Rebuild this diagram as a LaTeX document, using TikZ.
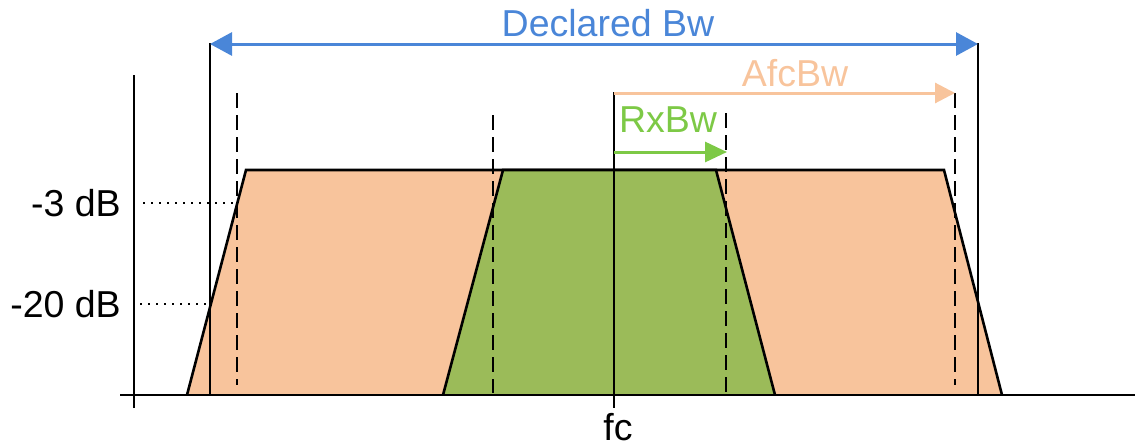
\documentclass[tikz,border=0pt]{standalone}
\usepackage{fontspec}
\setmainfont{Liberation Sans}
\usetikzlibrary{arrows.meta}
\definecolor{peach}{HTML}{F8C49C}
\definecolor{olive}{HTML}{9BBB59}
\definecolor{bwblue}{HTML}{4A86D8}
\definecolor{rxgreen}{HTML}{7DC946}
\tikzset{
  lbl/.style={inner sep=0pt, font=\fontsize{37.5}{45}\selectfont},
  axisline/.style={line width=2pt, black},
  solidv/.style={line width=1.8pt, black},
  dashv/.style={line width=2pt, black, dash pattern=on 15pt off 7pt},
  dotl/.style={line width=1.6pt, black, dash pattern=on 1.6pt off 6.4pt},
  outline/.style={line width=2.6pt, black, line join=miter},
  bwarrow/.style={line width=3pt, bwblue, {Triangle[length=22pt,width=23pt]}-{Triangle[length=22pt,width=23pt]}},
  afcarrow/.style={line width=3pt, peach, -{Triangle[length=20pt,width=20pt]}},
  rxarrow/.style={line width=3pt, rxgreen, -{Triangle[length=22pt,width=20pt]}}
}
\begin{document}
\begin{tikzpicture}[x=1pt,y=-1pt]
\useasboundingbox (0,0) rectangle (1135,447);
% coordinates
\coordinate (obl) at (187,395);
\coordinate (otl) at (246,170);
\coordinate (otr) at (944,170);
\coordinate (obr) at (1002,395);
\coordinate (gbl) at (443,395);
\coordinate (gtl) at (503,170);
\coordinate (gtr) at (716,170);
\coordinate (gbr) at (775,395);
% orange trapezoid
\fill[peach] (obl) -- (otl) -- (otr) -- (obr) -- cycle;
\draw[outline] (obl) -- (otl) -- (otr) -- (obr);
% green trapezoid
\fill[olive] (gbl) -- (gtl) -- (gtr) -- (gbr) -- cycle;
\draw[outline] (gbl) -- (gtl) -- (gtr) -- (gbr);
% axes
\coordinate (xa0) at (120,395);
\coordinate (xa1) at (1135,395);
\coordinate (ya0) at (134,408);
\coordinate (ya1) at (134,75);
\draw[axisline] (xa0) -- (xa1);
\draw[axisline] (ya0) -- (ya1);
% solid verticals
\coordinate (sl0) at (210,43);
\coordinate (sl1) at (210,395);
\coordinate (sr0) at (978,43);
\coordinate (sr1) at (978,395);
\draw[solidv] (sl0) -- (sl1);
\draw[solidv] (sr0) -- (sr1);
% fc line
\coordinate (fc0) at (614,92);
\coordinate (fc1) at (614,408);
\draw[solidv] (fc0) -- (fc1);
% dashed verticals
\coordinate (dl0) at (237,93);
\coordinate (dl1) at (237,385);
\coordinate (dr0) at (955,93);
\coordinate (dr1) at (955,385);
\coordinate (il0) at (493,115);
\coordinate (il1) at (493,393);
\coordinate (ir0) at (726,113);
\coordinate (ir1) at (726,393);
\draw[dashv] (dl0) -- (dl1);
\draw[dashv] (dr0) -- (dr1);
\draw[dashv] (il0) -- (il1);
\draw[dashv] (ir0) -- (ir1);
% dotted level lines
\coordinate (d3a) at (143,203);
\coordinate (d3b) at (236,203);
\coordinate (d20a) at (140,304);
\coordinate (d20b) at (209,304);
\draw[dotl] (d3a) -- (d3b);
\draw[dotl] (d20a) -- (d20b);
% arrows
\coordinate (bwl) at (210,44);
\coordinate (bwr) at (978,44);
\coordinate (afc0) at (614,93);
\coordinate (afc1) at (955,93);
\coordinate (rx0) at (614,152);
\coordinate (rx1) at (727,152);
\draw[bwarrow] (bwl) -- (bwr);
\draw[afcarrow] (afc0) -- (afc1);
\draw[rxarrow] (rx0) -- (rx1);
% labels
\node[lbl, anchor=base, text=bwblue] (tbw) at (608,36) {Declared Bw};
\node[lbl, anchor=base, text=peach] (tafc) at (795,86) {AfcBw};
\node[lbl, anchor=base, text=rxgreen] (trx) at (668,132) {RxBw};
\node[lbl, anchor=base] (tfc) at (618,440) {fc};
\node[lbl, anchor=east] (t3) at (121,203) {-3 dB};
\node[lbl, anchor=east] (t20) at (121,304) {-20 dB};
\end{tikzpicture}
\end{document}
